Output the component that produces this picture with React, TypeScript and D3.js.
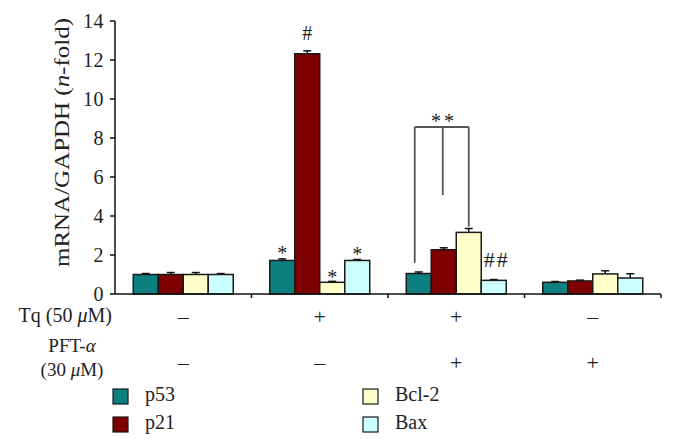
import React from "react"
import * as d3 from "d3"

const groups = ["ctrl", "tq", "tqpft", "pft"]
const series = ["p53", "p21", "Bcl-2", "Bax"]
const colors = ["#0e7f7f", "#7f0000", "#ffffcc", "#ccffff"]

// mean values per group, one array per gene
const p53Vals = [1.0, 1.72, 1.05, 0.6]
const p21Vals = [1.0, 12.32, 2.27, 0.67]
const bcl2Vals = [1.0, 0.6, 3.16, 1.03]
const baxVals = [1.0, 1.72, 0.7, 0.82]

const p53Err = [0.05, 0.08, 0.08, 0.04]
const p21Err = [0.1, 0.15, 0.1, 0.04]
const bcl2Err = [0.1, 0.05, 0.2, 0.16]
const baxErr = [0.05, 0.05, 0.04, 0.22]

const tqRow = ["–", "+", "+", "–"]
const pftRow = ["–", "–", "+", "+"]
const yTicks = [0, 2, 4, 6, 8, 10, 12, 14]

const values = [p53Vals, p21Vals, bcl2Vals, baxVals]
const errors = [p53Err, p21Err, bcl2Err, baxErr]

const FONT = "'Liberation Serif', 'DejaVu Serif', serif"

const App: React.FC = () => {
	const width = 676
	const height = 447
	const margin = { top: 21, left: 115, right: 15, bottom: 153 }
	const y0 = height - margin.bottom

	const x = d3
		.scaleBand()
		.domain(groups)
		.range([margin.left, width - margin.right])
		.paddingInner(0)
	const xs = d3
		.scaleBand()
		.domain(series)
		.range([0, x.bandwidth()])
		.paddingOuter(0.73)
	const y = d3.scaleLinear().domain([0, 14]).range([y0, margin.top])

	const barX = (g: number, s: number) => (x(groups[g]) as number) + (xs(series[s]) as number)
	const barMid = (g: number, s: number) => barX(g, s) + xs.bandwidth() / 2
	const top = (g: number, s: number) => y(values[s][g] + errors[s][g])
	const gMid = (g: string) => (x(g) as number) + x.bandwidth() / 2

	return (
		<svg
			width={width}
			height={height}
			style={{ position: "absolute", left: 0, top: 0, background: "#fff" }}
			fontFamily={FONT}>
			{/* bars with upper error bars */}
			{series.map((s, si) =>
				groups.map((g, gi) => (
					<g key={s + g}>
						<line
							x1={barMid(gi, si)}
							x2={barMid(gi, si)}
							y1={y(values[si][gi])}
							y2={top(gi, si)}
							stroke="#111"
							strokeWidth={1.5}
						/>
						<line
							x1={barMid(gi, si) - 4}
							x2={barMid(gi, si) + 4}
							y1={top(gi, si)}
							y2={top(gi, si)}
							stroke="#111"
							strokeWidth={1.5}
						/>
						<rect
							x={barX(gi, si)}
							y={y(values[si][gi])}
							width={xs.bandwidth()}
							height={y0 - y(values[si][gi])}
							fill={colors[si]}
							stroke="#1a1a1a"
							strokeWidth={1.5}
						/>
					</g>
				))
			)}

			{/* y axis */}
			<line x1={margin.left} x2={margin.left} y1={y(14)} y2={y0} stroke="#111" strokeWidth={1.5} />
			{yTicks.map((t) => (
				<g key={t}>
					<line x1={margin.left - 5} x2={margin.left} y1={y(t)} y2={y(t)} stroke="#111" strokeWidth={1.5} />
					<text
						x={margin.left - 11}
						y={y(t)}
						dy="0.35em"
						textAnchor="end"
						fontSize={20}
						letterSpacing={0.5}
						fill="#222">
						{t}
					</text>
				</g>
			))}
			<text
				transform={`translate(69,${(18 + 267) / 2}) rotate(-90)`}
				textAnchor="middle"
				fontSize={21}
				fill="#222"
				textLength={249}
				lengthAdjust="spacingAndGlyphs">
				mRNA/GAPDH (<tspan fontStyle="italic">n</tspan>-fold)
			</text>

			{/* x axis */}
			<line x1={margin.left} x2={width - margin.right} y1={y0} y2={y0} stroke="#111" strokeWidth={1.5} />
			{groups.map((g) => (
				<line
					key={g}
					x1={(x(g) as number) + x.bandwidth()}
					x2={(x(g) as number) + x.bandwidth()}
					y1={y0}
					y2={y0 + 4}
					stroke="#111"
					strokeWidth={1.5}
				/>
			))}

			{/* treatment rows */}
			<text x={112} y={322} textAnchor="end" fontSize={20} fill="#222">
				Tq (50 <tspan fontStyle="italic">μ</tspan>M)
			</text>
			<text x={72} y={352} textAnchor="middle" fontSize={19} fill="#222">
				PFT-<tspan fontStyle="italic">α</tspan>
			</text>
			<text x={72} y={376} textAnchor="middle" fontSize={19} fill="#222">
				(30 <tspan fontStyle="italic">μ</tspan>M)
			</text>
			{groups.map((g, gi) => (
				<g key={"row" + g}>
					<text x={gMid(g)} y={324} textAnchor="middle" fontSize={22} fill="#222">
						{tqRow[gi]}
					</text>
					<text x={gMid(g)} y={370} textAnchor="middle" fontSize={22} fill="#222">
						{pftRow[gi]}
					</text>
				</g>
			))}

			{/* significance marks */}
			<text x={barMid(1, 0)} y={260} textAnchor="middle" fontSize={20} fill="#222">*</text>
			<text x={barMid(1, 1)} y={40} textAnchor="middle" fontSize={20} fill="#222">#</text>
			<text x={barMid(1, 2)} y={284} textAnchor="middle" fontSize={20} fill="#222">*</text>
			<text x={barMid(1, 3)} y={261} textAnchor="middle" fontSize={20} fill="#222">*</text>
			<text x={barMid(2, 3) + 3} y={267} textAnchor="middle" fontSize={22} letterSpacing={2} fill="#222">##</text>

			<g stroke="#555" strokeWidth={1.8} fill="none">
				<line x1={barMid(2, 0) - 4} x2={barMid(2, 2)} y1={127} y2={127} />
				<line x1={barMid(2, 0) - 4} x2={barMid(2, 0) - 4} y1={127} y2={y(1.6)} />
				<line x1={barMid(2, 1) - 1} x2={barMid(2, 1) - 1} y1={127} y2={195} />
				<line x1={barMid(2, 2)} x2={barMid(2, 2)} y1={127} y2={top(2, 2) - 2} />
			</g>
			<text x={444} y={128} textAnchor="middle" fontSize={20} letterSpacing={3} fill="#222">**</text>

			{/* legend */}
			{series.map((s, si) => {
				const lx = si < 2 ? 113 : 363
				const ly = si % 2 === 0 ? 389 : 417
				return (
					<g key={"leg" + s}>
						<rect x={lx} y={ly} width={15} height={15} fill={colors[si]} stroke="#1a1a1a" strokeWidth={1.2} />
						<text x={lx + 32} y={ly + 12} fontSize={20} fill="#222">
							{s}
						</text>
					</g>
				)
			})}
		</svg>
	)
}

export default App
